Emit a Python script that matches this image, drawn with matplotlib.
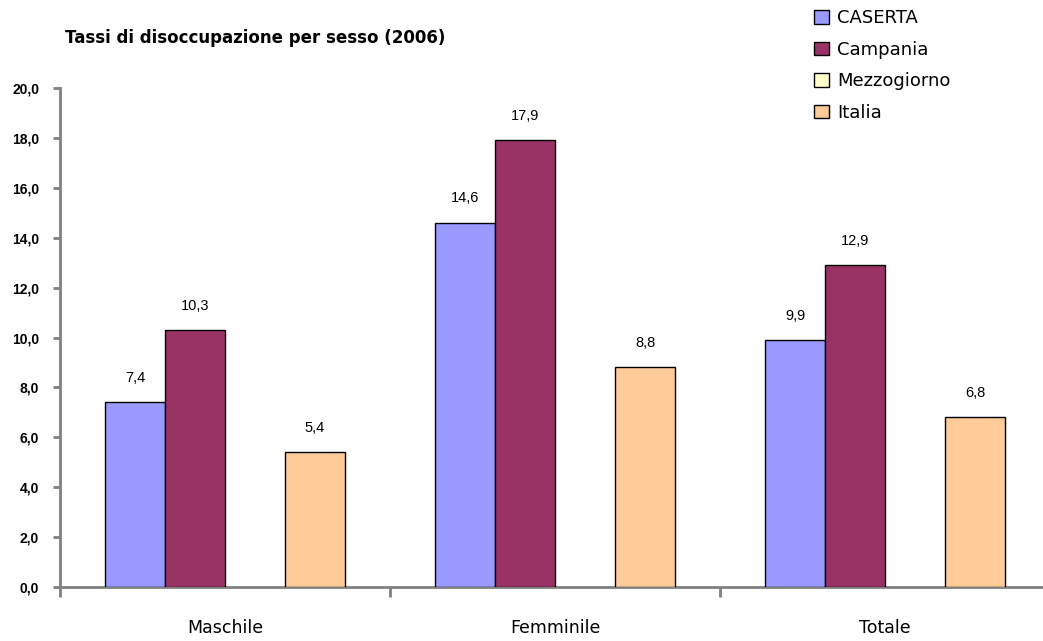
import numpy as np
import matplotlib
matplotlib.use("Agg")
import matplotlib.pyplot as plt
from matplotlib.patches import Patch

categories = ["Maschile", "Femminile", "Totale"]
series_names = ["CASERTA", "Campania", "Mezzogiorno", "Italia"]
caserta = [7.4, 14.6, 9.9]
campania = [10.3, 17.9, 12.9]
mezzogiorno = [np.nan, np.nan, np.nan]
italia = [5.4, 8.8, 6.8]
colors = ["#9999FF", "#993366", "#FFFFCC", "#FFCC99"]
yticks = [0, 2, 4, 6, 8, 10, 12, 14, 16, 18, 20]

W, H = 1043, 641
fig = plt.figure(figsize=(W / 100, H / 100), dpi=100)
ax = fig.add_axes([60 / W, (H - 587) / H, (1050 - 60) / W, (587 - 88) / H])

data = [caserta, campania, mezzogiorno, italia]
x = np.arange(len(categories))
bw = 60 / 330
for i, (vals, c) in enumerate(zip(data, colors)):
    pos = x + (i - 1.5) * bw
    v = np.array(vals, dtype=float)
    ok = ~np.isnan(v)
    if ok.any():
        ax.bar(pos[ok], v[ok], width=bw, color=c, edgecolor="black",
               linewidth=1.0, zorder=3)
    for p, val in zip(pos[ok], v[ok]):
        ax.text(p, val + 0.7, f"{val:.1f}".replace(".", ","), ha="center",
                va="bottom", fontsize=10.5, family="Liberation Sans")

ax.set_xlim(-0.5, 2.5)
ax.set_ylim(0, 20)
ax.set_yticks(yticks)
ax.set_yticklabels([f"{t:.1f}".replace(".", ",") for t in yticks],
                   fontsize=10, family="Liberation Sans", fontweight="bold")
ax.set_xticks([-0.5, 0.5, 1.5, 2.5])
ax.set_xticklabels([])
ax.tick_params(axis="y", length=5, width=2, color="#808080", pad=10)
ax.tick_params(axis="x", length=7, width=2, color="#808080", direction="out")
for s in ["top", "right"]:
    ax.spines[s].set_visible(False)
for s in ["left", "bottom"]:
    ax.spines[s].set_color("#808080")
    ax.spines[s].set_linewidth(2)

for xi, cat in zip(x, categories):
    ax.text(xi, -1.65, cat, ha="center", va="center", fontsize=12.5,
            family="DejaVu Sans")

fig.text(65 / W, 1 - 38 / H, "Tassi di disoccupazione per sesso (2006)",
         fontsize=12, fontweight="bold", family="DejaVu Sans", va="center", ha="left")

handles = [Patch(facecolor=c, edgecolor="black", linewidth=1) for c in colors]
leg = fig.legend(handles, series_names, loc="upper left",
                 bbox_to_anchor=(807 / W, 1 - 2 / H), frameon=False,
                 fontsize=13, handlelength=0.8, handleheight=0.8,
                 handletextpad=0.45, labelspacing=0.75, borderaxespad=0)

fig.savefig("out.png", dpi=100)
